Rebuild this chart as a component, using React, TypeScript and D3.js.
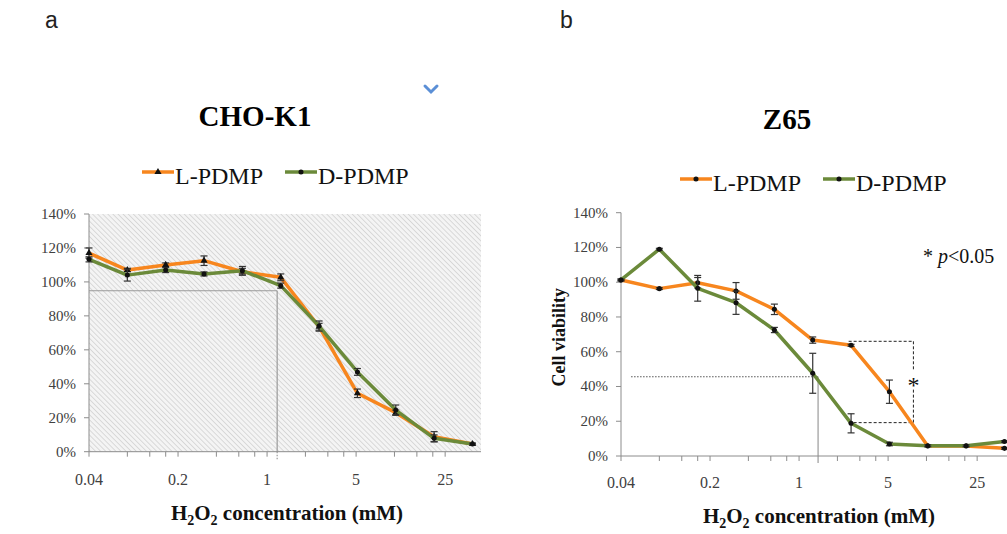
import React from 'react'
import * as d3 from 'd3'

// H2O2 concentrations (mM), two-fold dilutions
const concentrations = [0.04, 0.08, 0.16, 0.32, 0.64, 1.28, 2.56, 5.12, 10.24, 20.48, 40.96]
const xTickValues = [0.04, 0.2, 1, 5, 25]
const xTickLabels = ['0.04', '0.2', '1', '5', '25']
const xMinorTicks = [0.08, 0.12, 0.16, 0.4, 0.6, 0.8, 2, 3, 4, 10, 15, 20]
const yTickValues = [0, 0.2, 0.4, 0.6, 0.8, 1.0, 1.2, 1.4]
const seriesNames = ['L-PDMP', 'D-PDMP']

// CHO-K1
const choL = [1.17, 1.07, 1.10, 1.125, 1.06, 1.027, 0.736, 0.344, 0.23, 0.088, 0.045]
const choLErr = [0.03, 0.01, 0.012, 0.028, 0.02, 0.02, 0.02, 0.025, 0.015, 0.03, 0.005]
const choD = [1.133, 1.04, 1.07, 1.047, 1.066, 0.978, 0.74, 0.47, 0.245, 0.079, 0.045]
const choDErr = [0.015, 0.035, 0.015, 0.012, 0.025, 0.015, 0.03, 0.02, 0.03, 0.02, 0.005]
const choRef = { conc: 1.2, value: 0.948 }

// Z65
const z65L = [1.013, 0.963, 0.997, 0.95, 0.844, 0.667, 0.637, 0.37, 0.058, 0.058, 0.044]
const z65LErr = [0.005, 0.005, 0.03, 0.048, 0.03, 0.018, 0.006, 0.067, 0.005, 0.005, 0.005]
const z65D = [1.013, 1.19, 0.965, 0.882, 0.725, 0.476, 0.188, 0.069, 0.059, 0.059, 0.083]
const z65DErr = [0.005, 0.005, 0.074, 0.067, 0.015, 0.115, 0.055, 0.01, 0.005, 0.005, 0.005]
const z65Ref = { conc: 1.41, value: 0.456, start: 0.048 }
const z65Bracket = { from: 2.45, to: 7.9, top: 0.66, bottom: 0.192 }

const ORANGE = '#f7861e'
const GREEN = '#6b8a3a'
const SERIF = '"Liberation Serif", "Times New Roman", serif'

const Panel = (props) => {
  const { title, x0, x1, yTop, yBottom, L, LErr, D, DErr, hatch, legendY, legendX,
    titleX, titleY, tickLabelY, xTitleY, yLabel, lMarker, dMarker, children } = props
  const x = d3.scaleLog().base(5).domain([0.04, 47.8]).range([x0, x1])
  const y = d3.scaleLinear().domain([0, 1.4]).range([yBottom, yTop])
  const line = d3.line<number>().x((d, i) => x(concentrations[i])).y(d => y(d))
  const sym = (type) => d3.symbol().type(type).size(type === d3.symbolTriangle ? 22 : 20)()
  const series = [
    { vals: L, errs: LErr, color: ORANGE, marker: lMarker },
    { vals: D, errs: DErr, color: GREEN, marker: dMarker },
  ]
  const axisColor = '#8c8c8c'
  return (
    <g>
      <text x={titleX} y={titleY} textAnchor="middle" fontFamily={SERIF} fontWeight="bold" fontSize={29}>{title}</text>
      {/* legend */}
      {series.map((s, i) => (
        <g key={i} transform={`translate(${legendX[i]},${legendY})`}>
          <line x1={0} x2={32} y1={0} y2={0} stroke={s.color} strokeWidth={3.5} />
          <path d={sym(s.marker)} transform="translate(16,0)" fill="#111" />
          <text x={33} y={12} fontFamily={SERIF} fontSize={24} fill="#111">{seriesNames[i]}</text>
        </g>
      ))}
      {hatch && <rect x={x0} y={yTop} width={x1 - x0} height={yBottom - yTop} fill="url(#hatch)" />}
      {children && children(x, y)}
      {/* y axis */}
      <line x1={x0} x2={x0} y1={yTop} y2={yBottom} stroke={axisColor} />
      {yTickValues.map(t => (
        <g key={t}>
          <line x1={x0 - 5} x2={x0} y1={y(t)} y2={y(t)} stroke={axisColor} />
          <text x={x0 - 13} y={y(t) + 5} textAnchor="end" fontFamily={SERIF} fontSize={15} fill="#404040">{Math.round(t * 100) + '%'}</text>
        </g>
      ))}
      {/* x axis */}
      <line x1={x0} x2={x1} y1={yBottom} y2={yBottom} stroke={axisColor} />
      {xTickValues.concat(xMinorTicks).map(t => (
        <line key={t} x1={x(t)} x2={x(t)} y1={yBottom} y2={yBottom + 5} stroke={axisColor} />
      ))}
      {xTickValues.map((t, i) => (
        <text key={t} x={x(t)} y={tickLabelY} textAnchor="middle" fontFamily={SERIF} fontSize={16} fill="#404040">{xTickLabels[i]}</text>
      ))}
      <text x={(x0 + x1) / 2 + 2} y={xTitleY} textAnchor="middle" fontFamily={SERIF} fontWeight="bold" fontSize={21} fill="#111">
        <tspan>H</tspan><tspan fontSize={14} dy={5}>2</tspan><tspan dy={-5}>O</tspan><tspan fontSize={14} dy={5}>2</tspan><tspan dy={-5}> concentration (mM)</tspan>
      </text>
      {yLabel && (
        <text transform={`translate(${x0 - 56},${(yTop + yBottom) / 2 + 3}) rotate(-90)`} textAnchor="middle" fontFamily={SERIF} fontWeight="bold" fontSize={18} fill="#111">Cell viability</text>
      )}
      {/* series */}
      {series.map((s, si) => (
        <g key={si}>
          <path d={line(s.vals) || ''} fill="none" stroke={s.color} strokeWidth={3.5} strokeLinejoin="round" />
          {s.vals.map((v, i) => {
            const cx = x(concentrations[i])
            const e = s.errs[i]
            return (
              <g key={i}>
                <line x1={cx} x2={cx} y1={y(v + e)} y2={y(v - e)} stroke="#333" strokeWidth={1.2} />
                <line x1={cx - 3.5} x2={cx + 3.5} y1={y(v + e)} y2={y(v + e)} stroke="#333" strokeWidth={1.2} />
                <line x1={cx - 3.5} x2={cx + 3.5} y1={y(v - e)} y2={y(v - e)} stroke="#333" strokeWidth={1.2} />
                <path d={sym(s.marker)} transform={`translate(${cx},${y(v)})`} fill="#111" />
              </g>
            )
          })}
        </g>
      ))}
    </g>
  )
}

export default function App() {
  return (
    <svg width={1007} height={534} style={{ position: 'absolute', left: 0, top: 0, background: '#fff' }}>
      <defs>
        <pattern id="hatch" patternUnits="userSpaceOnUse" width={3.6} height={3.6} patternTransform="rotate(-45)">
          <rect width={3.6} height={3.6} fill="#f4f4f4" />
          <line x1={0} y1={0} x2={0} y2={3.6} stroke="#c4c4c4" strokeWidth={1.1} />
        </pattern>
      </defs>
      <text x={45} y={28} fontFamily='"Liberation Sans", Arial, sans-serif' fontSize={23} fill="#222">a</text>
      <text x={560} y={28} fontFamily='"Liberation Sans", Arial, sans-serif' fontSize={23} fill="#222">b</text>
      <path d="M425,86 L431,92 L437,86" fill="none" stroke="#5b8fd6" strokeWidth={3} strokeLinecap="round" />

      <Panel title="CHO-K1" x0={89} x1={481} yTop={214} yBottom={451.7}
        L={choL} LErr={choLErr} D={choD} DErr={choDErr} hatch
        legendX={[142, 285]} legendY={172} titleX={255} titleY={125.5}
        tickLabelY={485} xTitleY={520} lMarker={d3.symbolTriangle} dMarker={d3.symbolCircle}>
        {(x, y) => (
          <g>
            <line x1={x(0.04)} x2={x(choRef.conc)} y1={y(choRef.value)} y2={y(choRef.value)} stroke="#9a9a9a" strokeWidth={1.2} />
            <line x1={x(choRef.conc)} x2={x(choRef.conc)} y1={y(choRef.value)} y2={y(0)} stroke="#9a9a9a" strokeWidth={1.2} />
            <line x1={x(choRef.conc)} x2={x(choRef.conc)} y1={y(0)} y2={y(0) + 9} stroke="#9a9a9a" strokeWidth={1.2} strokeDasharray="1.5,1.5" />
          </g>
        )}
      </Panel>

      <Panel title="Z65" x0={621} x1={1013} yTop={212.7} yBottom={456}
        L={z65L} LErr={z65LErr} D={z65D} DErr={z65DErr} yLabel
        legendX={[680, 823]} legendY={179} titleX={787} titleY={129}
        tickLabelY={488} xTitleY={523} lMarker={d3.symbolCircle} dMarker={d3.symbolCircle}>
        {(x, y) => (
          <g>
            <line x1={x(z65Ref.start)} x2={x(z65Ref.conc)} y1={y(z65Ref.value)} y2={y(z65Ref.value)} stroke="#555" strokeWidth={1} strokeDasharray="1.5,1.5" />
            <line x1={x(z65Ref.conc)} x2={x(z65Ref.conc)} y1={y(z65Ref.value)} y2={y(0) + 7} stroke="#9a9a9a" strokeWidth={1.2} />
            <g stroke="#222" strokeWidth={1} strokeDasharray="3,2" fill="none">
              <line x1={x(z65Bracket.from)} x2={x(z65Bracket.to)} y1={y(z65Bracket.top)} y2={y(z65Bracket.top)} />
              <line x1={x(z65Bracket.from)} x2={x(z65Bracket.to)} y1={y(z65Bracket.bottom)} y2={y(z65Bracket.bottom)} />
              <line x1={x(z65Bracket.to)} x2={x(z65Bracket.to)} y1={y(z65Bracket.top)} y2={y(z65Bracket.top) + 30} />
              <line x1={x(z65Bracket.to)} x2={x(z65Bracket.to)} y1={y(z65Bracket.bottom) - 33} y2={y(z65Bracket.bottom)} />
            </g>
            <text x={x(z65Bracket.to)} y={y(z65Bracket.top) + 52} textAnchor="middle" fontFamily={SERIF} fontSize={24} fill="#111">*</text>
            <text x={923} y={263} fontFamily={SERIF} fontSize={20} fill="#111">* <tspan fontStyle="italic">p</tspan>&lt;0.05</text>
          </g>
        )}
      </Panel>
    </svg>
  )
}
